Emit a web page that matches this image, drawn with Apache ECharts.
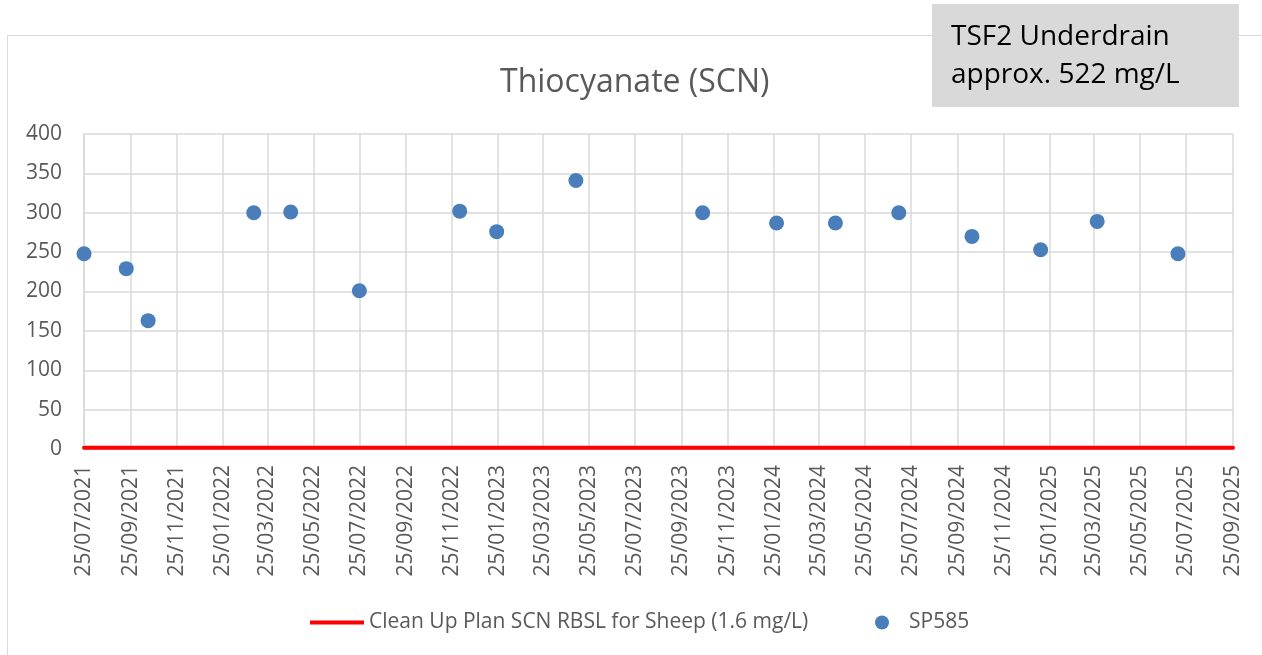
<!DOCTYPE html>
<html>
<head>
<meta charset="utf-8">
<script src="https://cdn.jsdelivr.net/npm/echarts@6/dist/echarts.min.js"></script>
<style>
  html, body { margin: 0; padding: 0; background: #fff; }
  #chart { width: 1262px; height: 655px; }
</style>
</head>
<body>
<div id="chart"></div>
<script>
// sample dates and SCN results (mg/L) for SP585
const sampleDates = [
  '2021-07-25', '2021-09-19', '2021-10-18', '2022-03-07', '2022-04-25', '2022-07-25',
  '2022-12-05', '2023-01-23', '2023-05-08', '2023-10-23', '2024-01-29', '2024-04-16',
  '2024-07-09', '2024-10-14', '2025-01-13', '2025-03-29', '2025-07-14'
]
const sp585 = [248, 229, 163, 300, 301, 201, 302, 276, 341, 300, 287, 287, 300, 270, 253, 289, 248]

// guideline value and the span it is drawn over
const rbslValue = 1.6
const rbslDates = ['2021-07-25', '2025-09-25']

// x axis ticks (every 2 months on the 25th)
const tickDates = [
  '2021-07-25', '2021-09-25', '2021-11-25', '2022-01-25', '2022-03-25', '2022-05-25',
  '2022-07-25', '2022-09-25', '2022-11-25', '2023-01-25', '2023-03-25', '2023-05-25',
  '2023-07-25', '2023-09-25', '2023-11-25', '2024-01-25', '2024-03-25', '2024-05-25',
  '2024-07-25', '2024-09-25', '2024-11-25', '2025-01-25', '2025-03-25', '2025-05-25',
  '2025-07-25', '2025-09-25'
]
const yTicks = [0, 50, 100, 150, 200, 250, 300, 350, 400]

// dates are placed on a plain value axis in days (UTC), so the ticks can sit on the 25th
const DAY = 86400000
const toDay = s => {
  const p = s.split('-').map(Number)
  return Date.UTC(p[0], p[1] - 1, p[2]) / DAY
}
const pad = n => (n < 10 ? '0' : '') + n
const dayLabel = v => {
  const d = new Date(Math.round(v) * DAY)
  return pad(d.getUTCDate()) + '/' + pad(d.getUTCMonth() + 1) + '/' + d.getUTCFullYear()
}

const grey = '#595959'
const gridColor = '#d9d9d9'
const font = '"Open Sans", sans-serif'

const chart = echarts.init(document.getElementById('chart'))

const option = {
  animation: false,
  backgroundColor: '#fff',
  title: {
    text: 'Thiocyanate (SCN)',
    left: 495,
    top: 62,
    textStyle: { color: grey, fontFamily: font, fontSize: 32, fontWeight: 'normal' }
  },
  grid: { left: 84, right: 29, top: 134, bottom: 206 },
  legend: [
    {
      left: 310,
      top: 612,
      padding: 0,
      itemWidth: 54,
      itemHeight: 4,
      data: [{ name: 'Clean Up Plan SCN RBSL for Sheep (1.6 mg/L)', icon: 'rect' }],
      textStyle: { color: grey, fontFamily: font, fontSize: 21 }
    },
    {
      left: 875,
      top: 612,
      padding: 0,
      itemWidth: 14,
      itemHeight: 14,
      data: [{ name: 'SP585', icon: 'circle' }],
      textStyle: { color: grey, fontFamily: font, fontSize: 21, padding: [0, 0, 0, 15] }
    }
  ],
  xAxis: {
    type: 'value',
    min: toDay(tickDates[0]),
    max: toDay(tickDates[tickDates.length - 1]),
    axisLine: { lineStyle: { color: gridColor, width: 1.5 } },
    axisTick: { show: false, customValues: tickDates.map(toDay) },
    axisLabel: {
      customValues: tickDates.map(toDay),
      rotate: 90,
      margin: 16,
      color: grey,
      fontFamily: font,
      fontSize: 21,
      formatter: dayLabel
    },
    splitLine: { show: true, lineStyle: { color: gridColor, width: 1.5 } }
  },
  yAxis: {
    type: 'value',
    min: yTicks[0],
    max: yTicks[yTicks.length - 1],
    interval: yTicks[1] - yTicks[0],
    axisLine: { show: true, lineStyle: { color: gridColor, width: 1.5 } },
    axisTick: { show: false },
    axisLabel: { margin: 22, color: grey, fontFamily: font, fontSize: 21 },
    splitLine: { lineStyle: { color: gridColor, width: 1.5 } }
  },
  series: [
    {
      name: 'Clean Up Plan SCN RBSL for Sheep (1.6 mg/L)',
      type: 'line',
      color: '#ff0000',
      symbol: 'none',
      lineStyle: { width: 4, color: '#ff0000', cap: 'round' },
      data: rbslDates.map(d => [toDay(d), rbslValue]),
      z: 3
    },
    {
      name: 'SP585',
      type: 'scatter',
      color: '#4a7ebb',
      symbolSize: 15,
      itemStyle: { opacity: 1 },
      data: sampleDates.map((d, i) => [toDay(d), sp585[i]]),
      z: 4
    }
  ],
  graphic: [
    {
      type: 'rect',
      shape: { x: 7.5, y: 35.5, width: 1300, height: 700 },
      style: { fill: 'none', stroke: gridColor, lineWidth: 1 },
      z: -1
    },
    {
      type: 'rect',
      shape: { x: 932, y: 4, width: 307, height: 103 },
      style: { fill: '#d9d9d9' },
      z: 10
    },
    {
      type: 'text',
      left: 951,
      top: 18,
      style: {
        text: 'TSF2 Underdrain\napprox. 522 mg/L',
        fill: '#000',
        font: '28px "Open Sans", sans-serif',
        lineHeight: 38
      },
      z: 11
    }
  ]
}

chart.setOption(option)
</script>
</body>
</html>
